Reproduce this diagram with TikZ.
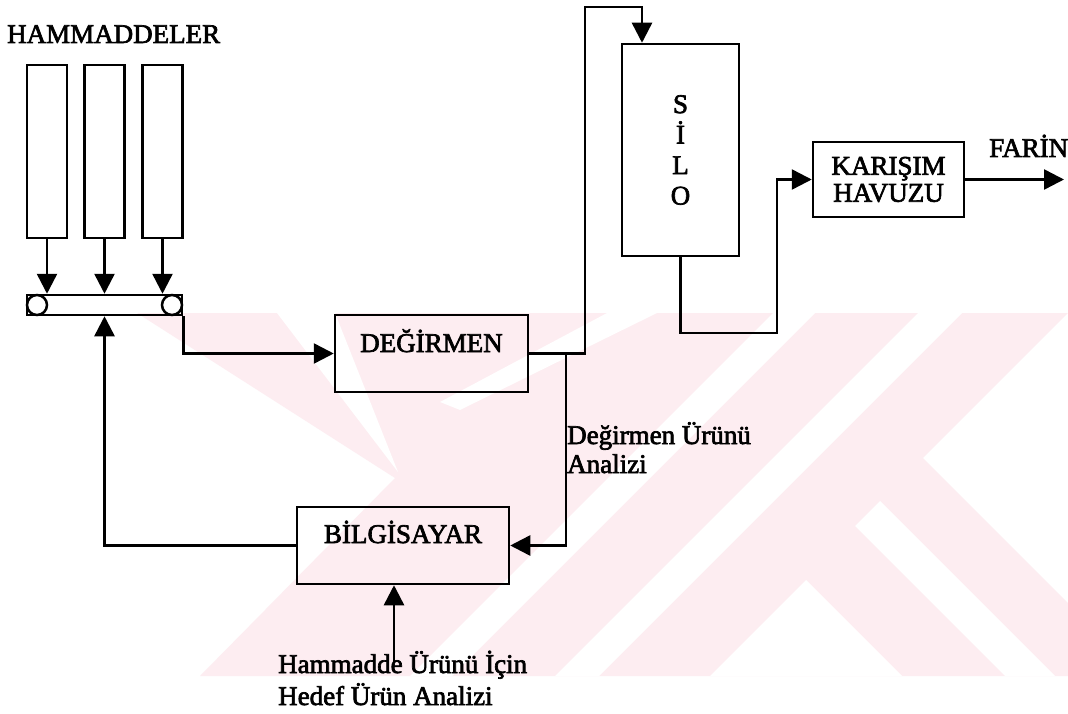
\documentclass[tikz,border=0pt]{standalone}
\usepackage{fontspec}
\setmainfont{Liberation Serif}[FakeBold=2.5]
\usetikzlibrary{arrows.meta}
\definecolor{wmpink}{RGB}{253,237,241}
\begin{document}
\begin{tikzpicture}[x=1pt,y=-1pt,
  lw/.style={line width=2.5pt},
  arr/.style={lw,-{Triangle[length=20pt,width=20pt]}},
  box/.style={draw,lw,inner sep=0pt},
  lbl/.style={inner sep=0pt,font=\fontsize{27}{29}\selectfont},
  wmw/.style={fill=white}]
\useasboundingbox (0,0) rectangle (1068,714);
\fill[white] (0,0) rectangle (1068,714);
% watermark
\fill[wmpink] (137,313) -- (395,478) -- (200,676) -- (1068,676) -- (1068,313) -- cycle;
\fill[wmw] (277,313) -- (335,313) -- (398,472) -- cycle;
\fill[wmw] (607,313) -- (657,313) -- (460,410) -- (440,402) -- cycle;
\fill[wmw] (773,313) -- (815,313) -- (452,676) -- (410,676) -- cycle;
\fill[wmw] (918,313) -- (962,313) -- (599,676) -- (555,676) -- cycle;
\fill[wmw] (1068,313) -- (923,458) -- (1068,603) -- cycle;
\fill[wmw] (880,501) -- (1055,676) -- (1005,676) -- (855,526) -- cycle;
\fill[wmw] (806,580) -- (902,676) -- (710,676) -- cycle;
% bins and conveyor
\node[lbl,anchor=base west] (hm) at (7,43) {HAMMADDELER};
\node[box,minimum width=40pt,minimum height=173pt] (b1) at (47,151.5) {};
\node[box,minimum width=40pt,minimum height=173pt] (b2) at (104.5,151.5) {};
\node[box,minimum width=40pt,minimum height=173pt] (b3) at (162.5,151.5) {};
\node[box,minimum width=155pt,minimum height=20pt] (conv) at (104.5,305) {};
\node[draw,lw,circle,minimum size=20pt,inner sep=0pt] (cl) at (37,305) {};
\node[draw,lw,circle,minimum size=20pt,inner sep=0pt] (cr) at (172,305) {};
% boxes
\node[box,lbl,minimum width=193pt,text height=37pt,text depth=40pt,anchor=base] (deg) at (431.5,352) {DEĞİRMEN};
\node[box,lbl,minimum width=212pt,text height=36pt,text depth=41pt,anchor=base] (bil) at (403,543) {BİLGİSAYAR};
\node[box,lbl,minimum width=117pt,minimum height=212pt,align=center,font=\fontsize{27}{30.5}\selectfont] (silo) at (680.5,150) {S\\İ\\L\\O};
\node[box,lbl,minimum width=151pt,minimum height=75pt,align=center,font=\fontsize{27}{27}\selectfont] (kar) at (888.5,179.5) {KARIŞIM\\HAVUZU};
% labels
\node[lbl,anchor=base west] (far) at (989,157) {FARİN};
\node[lbl,anchor=base west,align=left] (dua) at (567,473) {Değirmen Ürünü\\Analizi};
\node[lbl,anchor=base west,align=left,font=\fontsize{27}{32}\selectfont] (hin) at (278,705) {Hammadde Ürünü İçin\\Hedef Ürün Analizi};
% coordinates
\coordinate (up) at (585,7);
\coordinate (dn) at (642,7);
\coordinate (br) at (566,0);
\coordinate (s2) at (777,333);
\coordinate (fo) at (1064,0);
\coordinate (hs) at (394,663);
% connectors
\draw[arr] (b1.south) -- (b1.south |- conv.north);
\draw[arr] (b2.south) -- (b2.south |- conv.north);
\draw[arr] (b3.south) -- (b3.south |- conv.north);
\draw[arr] (conv.south east) |- (deg.west);
\draw[arr] (deg.east) -| (up) -- (dn) -- (dn |- silo.north);
\draw[arr] (br |- deg.east) |- (bil.east);
\draw[arr] (bil.west) -| (conv.south);
\draw[arr] (silo.south) |- (s2) |- (kar.west);
\draw[arr] (kar.east) -- (fo |- kar.east);
\draw[arr] (hs) -- (hs |- bil.south);
\end{tikzpicture}
\end{document}
